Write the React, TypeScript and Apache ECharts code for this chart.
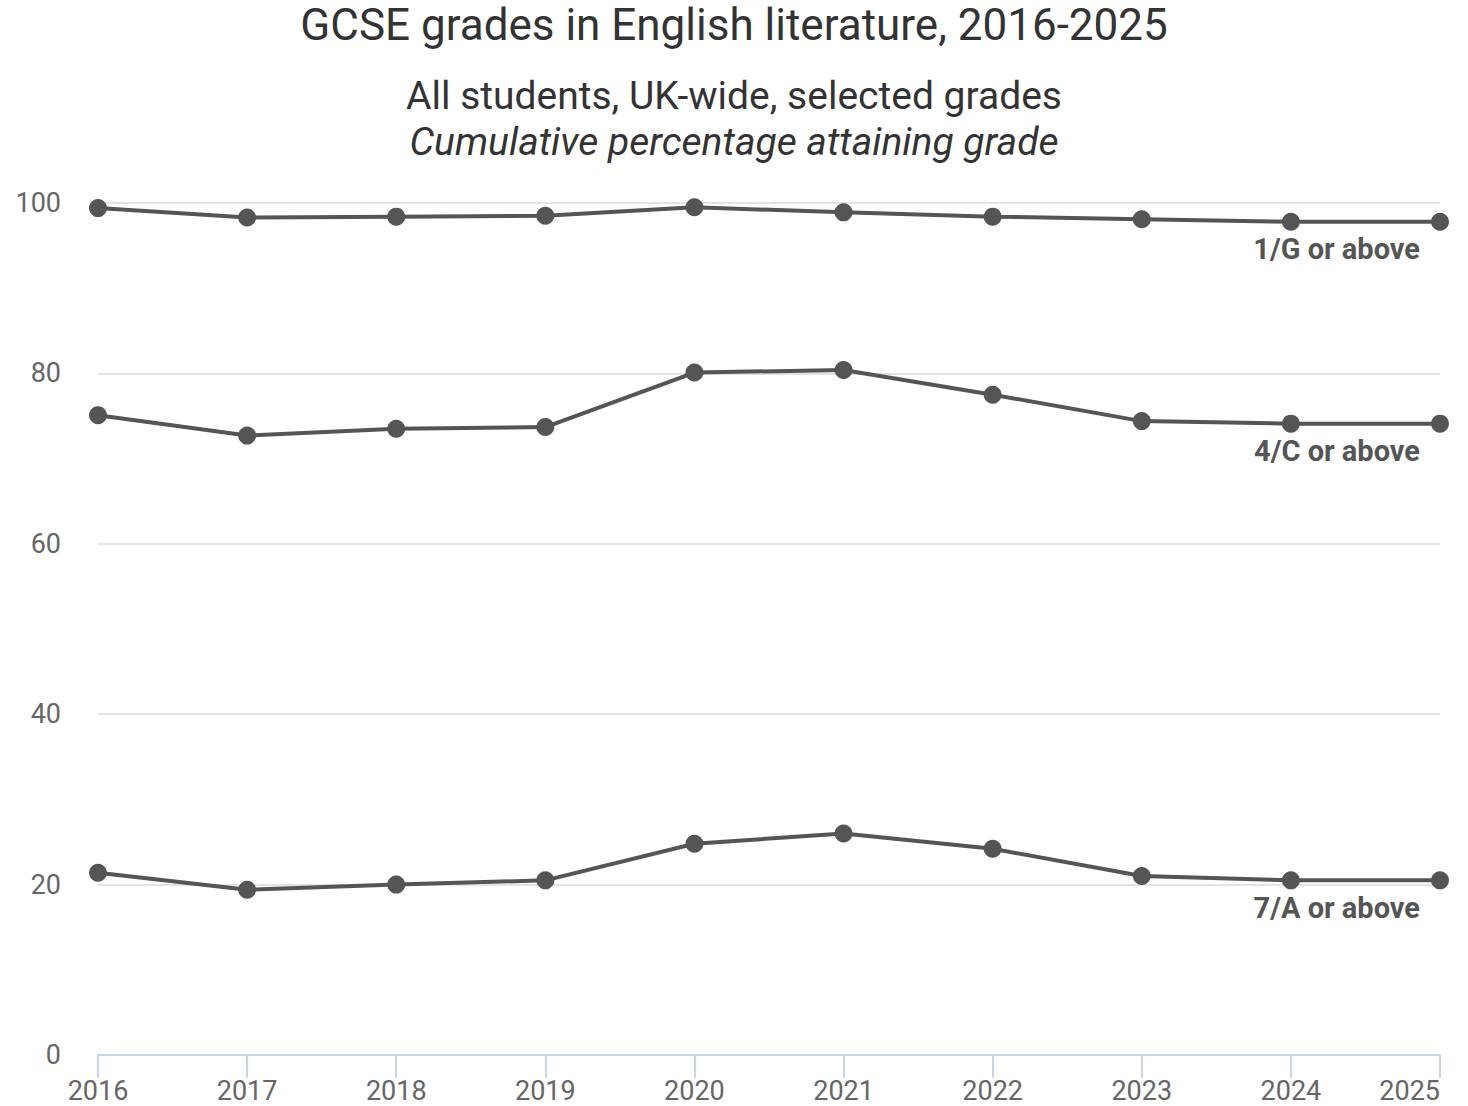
import React, { useEffect, useRef } from "react";
import * as echarts from "echarts";

const years = ["2016", "2017", "2018", "2019", "2020", "2021", "2022", "2023", "2024", "2025"];
const gradeG = [99.4, 98.3, 98.4, 98.5, 99.5, 98.9, 98.4, 98.1, 97.8, 97.8];
const gradeC = [75.1, 72.7, 73.5, 73.7, 80.1, 80.4, 77.5, 74.4, 74.1, 74.1];
const gradeA = [21.4, 19.4, 20.0, 20.5, 24.8, 26.0, 24.2, 21.0, 20.5, 20.5];
const seriesNames = ["1/G or above", "4/C or above", "7/A or above"];

const LINE = "#555555";

function makeSeries(name: string, values: number[]) {
  return {
    name,
    type: "line",
    data: values.map((v, i) =>
      i === values.length - 1
        ? {
            value: v,
            label: {
              show: true,
              formatter: name,
              position: "bottom",
              align: "right",
              distance: 4,
              offset: [-20, 0],
              fontFamily: "Roboto",
              fontWeight: "bold",
              fontSize: 29,
              color: LINE,
            },
          }
        : v
    ),
    symbol: "circle",
    symbolSize: 18,
    lineStyle: { color: LINE, width: 4 },
    itemStyle: { color: LINE },
    label: { show: false },
  };
}

export default function App() {
  const ref = useRef<HTMLDivElement>(null);
  useEffect(() => {
    if (!ref.current) return;
    document.body.style.margin = "0";
    document.body.style.overflow = "hidden";
    const chart = echarts.init(ref.current, null, { renderer: "svg" });
    chart.setOption({
      animation: false,
      backgroundColor: "#ffffff",
      textStyle: { fontFamily: "Roboto" },
      title: [
        {
          text: "GCSE grades in English literature, 2016-2025",
          left: "center",
          top: -2,
          textStyle: { fontFamily: "Roboto", fontSize: 44, fontWeight: "normal", color: "#333333" },
        },
        {
          text: "All students, UK-wide, selected grades",
          left: "center",
          top: 71,
          textStyle: { fontFamily: "Roboto", fontSize: 39, fontWeight: "normal", color: "#333333" },
        },
        {
          text: "Cumulative percentage attaining grade",
          left: "center",
          top: 117,
          textStyle: { fontFamily: "Roboto", fontSize: 39, fontStyle: "italic", fontWeight: "normal", color: "#333333" },
        },
      ],
      grid: { left: 98, right: 28, top: 203, bottom: 51, containLabel: false },
      xAxis: {
        type: "category",
        data: years,
        boundaryGap: false,
        axisLine: { show: true, lineStyle: { color: "#c9d3e6", width: 2 } },
        axisTick: { show: true, length: 23, lineStyle: { color: "#c9d3e6", width: 2 } },
        axisLabel: { color: "#666666", fontSize: 27, margin: 22, fontFamily: "Roboto", alignMaxLabel: "right" },
        splitLine: { show: false },
      },
      yAxis: {
        type: "value",
        min: 0,
        max: 100,
        interval: 20,
        axisLine: { show: false },
        axisTick: { show: false },
        axisLabel: { color: "#666666", fontSize: 27, margin: 37, fontFamily: "Roboto" },
        splitLine: { lineStyle: { color: "#e3e3e3", width: 2 } },
      },
      series: [
        makeSeries(seriesNames[0], gradeG),
        makeSeries(seriesNames[1], gradeC),
        makeSeries(seriesNames[2], gradeA),
      ],
    });
    return () => chart.dispose();
  }, []);
  return <div ref={ref} style={{ position: "absolute", left: 0, top: 0, width: 1468, height: 1106 }} />;
}
